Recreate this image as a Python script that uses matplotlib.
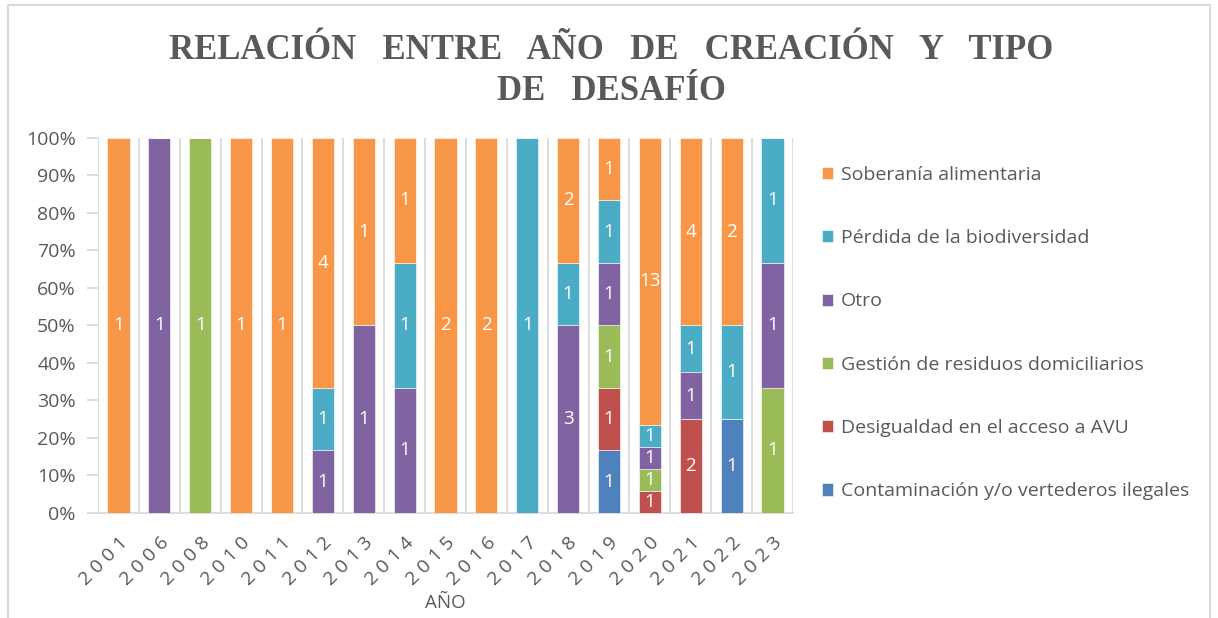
import matplotlib.pyplot as plt
import matplotlib.patches as mpatches
import matplotlib.transforms as mtransforms
import numpy as np

# datos (conteos por anio)
anios = ['2001', '2006', '2008', '2010', '2011', '2012', '2013', '2014', '2015',
         '2016', '2017', '2018', '2019', '2020', '2021', '2022', '2023']

contaminacion = [0, 0, 0, 0, 0, 0, 0, 0, 0, 0, 0, 0, 1, 0, 0, 1, 0]
desigualdad   = [0, 0, 0, 0, 0, 0, 0, 0, 0, 0, 0, 0, 1, 1, 2, 0, 0]
gestion       = [0, 0, 1, 0, 0, 0, 0, 0, 0, 0, 0, 0, 1, 1, 0, 0, 1]
otro          = [0, 1, 0, 0, 0, 1, 1, 1, 0, 0, 0, 3, 1, 1, 1, 0, 1]
perdida       = [0, 0, 0, 0, 0, 1, 0, 1, 0, 0, 1, 1, 1, 1, 1, 1, 1]
soberania     = [1, 0, 0, 1, 1, 4, 1, 1, 2, 2, 0, 2, 1, 13, 4, 2, 0]

series = [contaminacion, desigualdad, gestion, otro, perdida, soberania]
nombres = ['Contaminación y/o vertederos ilegales', 'Desigualdad en el acceso a AVU',
           'Gestión de residuos domiciliarios', 'Otro',
           'Pérdida de la biodiversidad', 'Soberanía alimentaria']
colores = ['#4F81BD', '#C0504D', '#9BBB59', '#8064A2', '#4BACC6', '#F79646']

gris = '#595959'
fuente = 'Open Sans'

fig = plt.figure(figsize=(12.18, 6.18), dpi=100)
ax = fig.add_axes([0.0805, 0.170, 0.5705, 0.607])

datos = np.array(series, dtype=float)
totales = datos.sum(axis=0)
porc = datos / totales
x = np.arange(len(anios))
base = np.zeros(len(anios))
for i in range(len(series)):
    ax.bar(x, porc[i], 0.54, bottom=base, color=colores[i], edgecolor='white',
           linewidth=0.4, label=nombres[i], zorder=3)
    for j in range(len(anios)):
        if datos[i][j] > 0:
            ax.text(x[j], base[j] + porc[i][j] / 2, str(int(datos[i][j])), ha='center',
                    va='center', color='white', fontsize=13.5, family=fuente, zorder=4)
    base = base + porc[i]

ax.set_xlim(-0.5, len(anios) - 0.5)
ax.set_ylim(0, 1)
ax.set_yticks(np.arange(0, 1.01, 0.1))
ax.set_yticklabels([str(int(round(v * 100))) + '%' for v in np.arange(0, 1.01, 0.1)])
ax.set_xticks(x)
# etiquetas con espaciado entre digitos como en el original
ax.set_xticklabels([' '.join(a) for a in anios], rotation=45, ha='right', va='top',
                   rotation_mode='anchor')
desp = mtransforms.ScaledTranslation(4 / 100, 0, fig.dpi_scale_trans)
for lbl in ax.get_xticklabels():
    lbl.set_transform(lbl.get_transform() + desp)
ax.set_xticks(np.arange(-0.5, len(anios), 1), minor=True)
ax.grid(True, axis='x', which='minor', color='#D9D9D9', linewidth=1.3, zorder=0)
ax.tick_params(axis='x', which='both', length=0, labelsize=14, labelcolor=gris, pad=15)
ax.tick_params(axis='y', length=8, color='#D9D9D9', width=1.3, labelsize=14,
               labelcolor=gris, pad=8)
for lbl in ax.get_xticklabels() + ax.get_yticklabels():
    lbl.set_family(fuente)
for s in ['top', 'right', 'left']:
    ax.spines[s].set_visible(False)
ax.spines['bottom'].set_color('#D9D9D9')
ax.spines['bottom'].set_linewidth(1.3)

ax.set_xlabel('AÑO', fontsize=13.5, color=gris, family=fuente, va='center')
ax.xaxis.set_label_coords(0.5, -0.24)

fig.text(0.502, 0.885, 'RELACIÓN   ENTRE   AÑO   DE   CREACIÓN   Y   TIPO\nDE   DESAFÍO',
         ha='center', va='center', fontsize=25, fontweight='bold', color=gris,
         family='Liberation Serif', linespacing=1.3)

# leyenda (orden invertido como en el original)
h, l = ax.get_legend_handles_labels()
fig.legend(h[::-1], l[::-1], loc='upper left', bbox_to_anchor=(0.6605, 0.76),
           frameon=False, labelspacing=2.33, handlelength=0.58, handleheight=0.58,
           handletextpad=0.38, labelcolor=gris, prop={'family': fuente, 'size': 14})

# borde del grafico
fig.patches.append(mpatches.Rectangle((8 / 1218, -0.01), 1202 / 1218, 1 - 5 / 618 + 0.01,
                                      transform=fig.transFigure, fill=False,
                                      edgecolor='#D9D9D9', linewidth=1.5))

plt.savefig('out.png', dpi=100)
